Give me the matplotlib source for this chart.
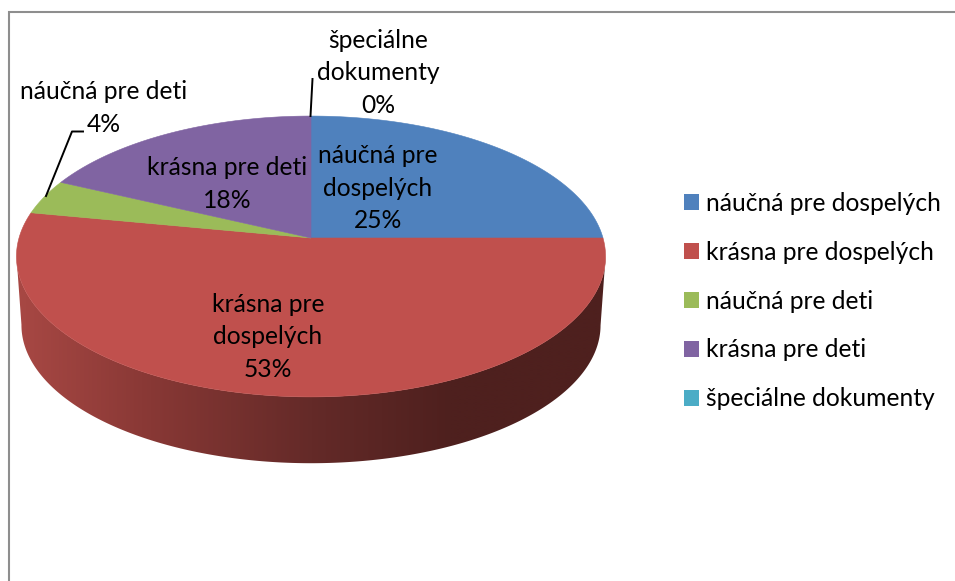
import numpy as np
import matplotlib
matplotlib.use('Agg')
import matplotlib.pyplot as plt
from matplotlib.patches import Patch, Polygon

categories = ['náučná pre dospelých', 'krásna pre dospelých', 'náučná pre deti',
              'krásna pre deti', 'špeciálne dokumenty']
shares = [25, 53, 4, 18, 0]
colors = ['#4F81BD', '#C0504D', '#9BBB59', '#8064A2', '#4BACC6']

plt.rcParams['font.family'] = ['Lato', 'DejaVu Sans']
FS = 17.7

# tilted disc: apex, radii and perspective factor in pixels
CX, CY = 311, 238
RX, RY, K = 292, 138, 0.1316
DEPTH = 69
BOTTOM_SCALE = 0.983


def rim(theta, scale=1.0, dy=0):
    # theta runs clockwise from 12 o'clock
    u = np.sin(theta)
    v = np.cos(theta)
    d = 1 + K * v
    return CX + scale * RX * u / d, CY + dy - scale * RY * v / d


fig = plt.figure(figsize=(9.55, 5.81), dpi=100)
ax = fig.add_axes([0, 0, 1, 1])
ax.set_xlim(0, 955)
ax.set_ylim(581, 0)
ax.axis('off')

# chart frame, only left and top are inside the crop
ax.plot([9, 9, 955], [581, 12, 12], color='#8E8E8E', lw=1.5, solid_joinstyle='miter')

edges = np.cumsum([0] + shares) / sum(shares) * 2 * np.pi

# side wall of the big red slice, dark gradient from left to right
side_stops_x = [17, 150, 311, 450, 605]
side_stops_r = [[168, 72, 68], [136, 56, 53], [100, 42, 40], [78, 32, 30], [78, 32, 30]]
grad_x = np.arange(17, 606)
grad = np.stack([np.interp(grad_x, side_stops_x, [s[c] for s in side_stops_r]) / 255
                 for c in range(3)], axis=-1)[np.newaxis, :, :]
t = np.linspace(edges[1], edges[2], 400)
xt, yt = rim(t)
xb, yb = rim(t, BOTTOM_SCALE, DEPTH)
# wall outline runs between the widest points of both rims
a, b = np.argmax(xt), np.argmin(xt)
c, d = np.argmax(xb), np.argmin(xb)
outline = Polygon(np.c_[np.r_[xt[a:b + 1], xb[c:d + 1][::-1]], np.r_[yt[a:b + 1], yb[c:d + 1][::-1]]],
                  closed=True, transform=ax.transData, facecolor='none', edgecolor='none')
ax.add_patch(outline)
im = ax.imshow(grad, extent=(17, 606, 470, 200), aspect='auto', interpolation='bilinear')
im.set_clip_path(outline)
ax.set_xlim(0, 955)
ax.set_ylim(581, 0)

# top faces
for i in range(len(shares)):
    if shares[i] == 0:
        continue
    t = np.linspace(edges[i], edges[i + 1], 200)
    x, y = rim(t)
    ax.fill(np.r_[CX, x], np.r_[CY, y], color=colors[i], lw=0.4, zorder=2)

# data labels
label_text = ['{}\n{}%'.format(n, s) for n, s in zip(
    ['náučná pre\ndospelých', 'krásna pre\ndospelých', 'náučná pre deti', 'krásna pre deti',
     'špeciálne\ndokumenty'], shares)]
label_x = [378, 268, 104, 227, 378]
label_y = [188, 337, 108, 184, 73]
for s, lx, ly in zip(label_text, label_x, label_y):
    ax.text(lx, ly, s, ha='center', va='center', fontsize=FS, color='black',
            linespacing=1.5, zorder=5)

# leader lines
ax.plot([46, 72, 83], [196, 131.5, 131.5], color='black', lw=1.4, zorder=4)
ax.plot([310.5, 312.5], [116, 79], color='black', lw=1.4, zorder=4)

handles = [Patch(facecolor=c, edgecolor='none') for c in colors]
ax.legend(handles, categories, loc='upper left', bbox_to_anchor=(684 / 955, 1 - 192 / 581),
          frameon=False, fontsize=FS, handlelength=0.62, handleheight=0.62, handletextpad=0.27,
          labelspacing=1.05, borderpad=0, borderaxespad=0)

fig.savefig('out.png', dpi=100)
